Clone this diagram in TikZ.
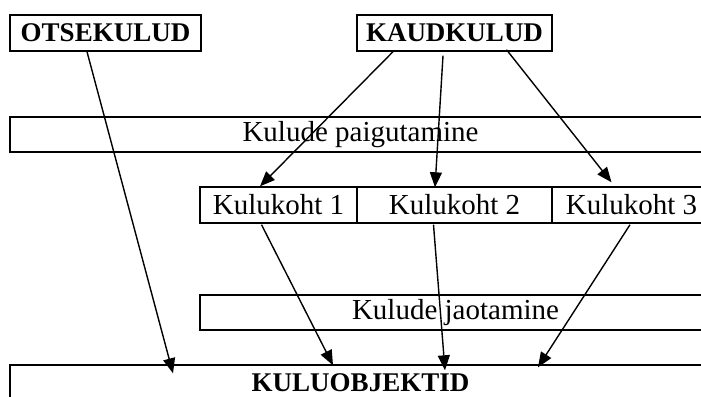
\documentclass[tikz,border=0pt]{standalone}
\usepackage{fontspec}
\setmainfont{Liberation Serif}
\usetikzlibrary{arrows.meta,calc}

\begin{document}
\begin{tikzpicture}[x=0.5pt,y=-0.5pt,line width=0.7pt,>={Triangle[length=7.5pt,width=6pt]},
  box/.style={draw,rectangle,inner sep=0pt,minimum height=18pt,
    font=\fontsize{14.5pt}{16pt}\selectfont},
  head/.style={box,font=\fontsize{13.5pt}{16pt}\selectfont\bfseries},
  flow/.style={->}]
  \path[use as bounding box] (0,0) rectangle (701,396);
  \clip (0,0) rectangle (701,396);

  \node[head,minimum width=95.5pt] (otse) at (105.5,33) {OTSEKULUD};
  \node[head,minimum width=97.5pt] (kaud) at (454.5,33) {KAUDKULUD};

  \node[box,minimum width=350.5pt,minimum height=17.5pt] (paig) at (360.5,134.5)
    {Kulude paigutamine};

  \node[box,minimum width=78.5pt] (koht1) at (278.5,205) {Kulukoht 1};
  \node[box,minimum width=97.5pt] (koht2) at (454.5,205) {Kulukoht 2};
  \node[box,minimum width=79.5pt] (koht3) at (631.5,205) {Kulukoht 3};

  \node[box,minimum width=255.5pt,minimum height=17.5pt] (jaot) at (455.5,312.5)
    {Kulude jaotamine};

  \node[head,minimum width=350.5pt] (obj) at (360.5,383) {KULUOBJEKTID};

  \draw[flow] ($(otse.south)+(-18.5,0)$) -- ($(obj.north)+(-187.5,9)$);
  \draw[flow] ($(kaud.south)+(-61.5,0)$) -- ($(koht1.north)+(-18.5,0)$);
  \draw[flow] ($(kaud.south)+(-11.5,4)$) -- ($(koht2.north)+(-19.5,1)$);
  \draw[flow] ($(kaud.south)+(52,-2)$) -- ($(koht3.north)+(-20,-4)$);
  \draw[flow] ($(koht1.south)+(-17,1)$) -- ($(obj.north)+(-27.5,1)$);
  \draw[flow] ($(koht2.south)+(-21,1)$) -- ($(obj.north)+(84.5,6)$);
  \draw[flow] ($(koht3.south)+(-1.5,1)$) -- ($(obj.north)+(177.5,3)$);
\end{tikzpicture}
\end{document}
